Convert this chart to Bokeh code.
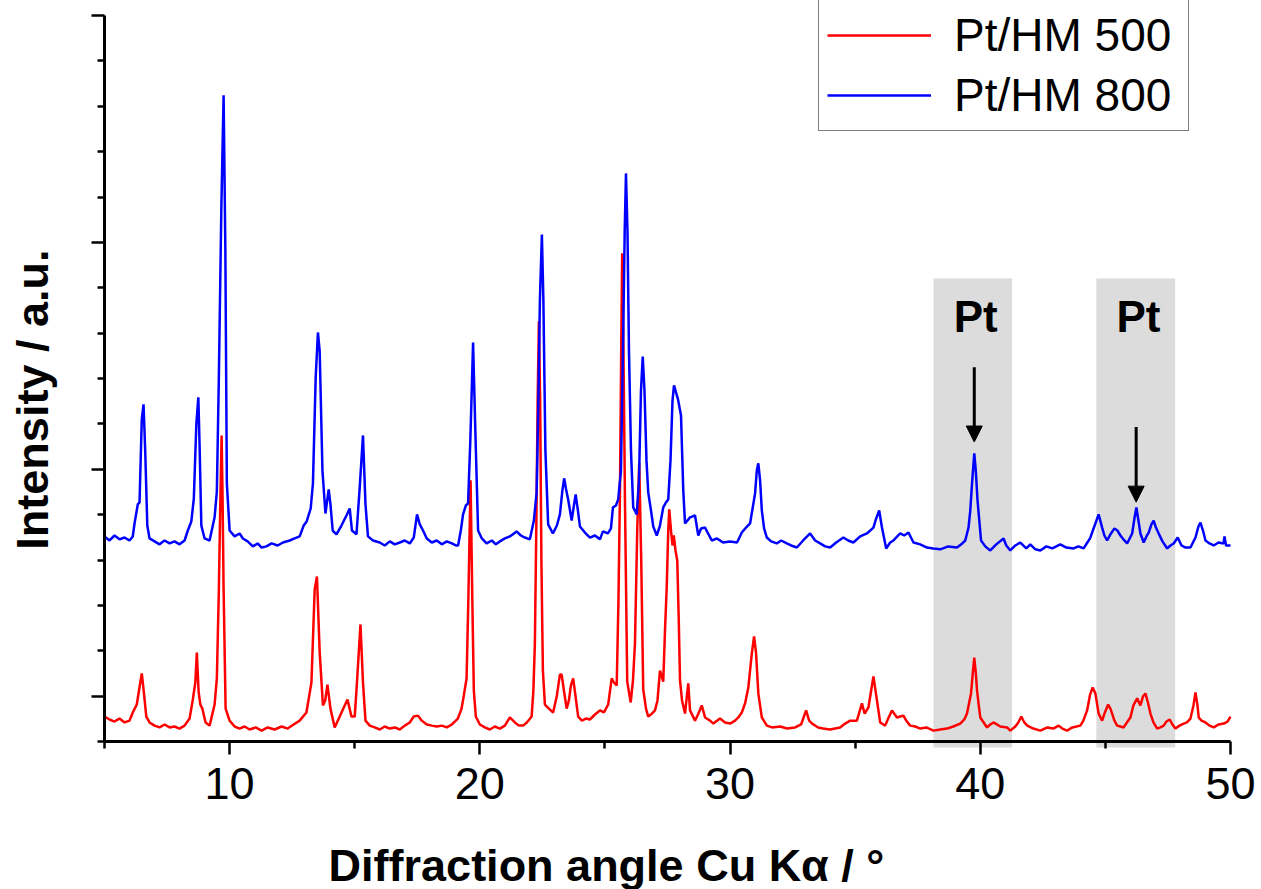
from bokeh.plotting import figure
from bokeh.models import (Range1d, FixedTicker, Legend, LegendItem, Label,
                          Arrow, NormalHead)
from bokeh.embed import file_html
from bokeh.resources import INLINE

# ---- data: (2theta / deg, intensity / counts) ----
pattern_500 = [
    (5.0, -90), (5.2, -103), (5.4, -112), (5.6, -99), (5.8, -116), (6.0, -108),
    (6.13, -72), (6.29, -37), (6.43, 60), (6.49, 100), (6.57, 20), (6.67, -90),
    (6.8, -116), (7.0, -130), (7.2, -138), (7.4, -125), (7.6, -138), (7.8, -134),
    (8.0, -143), (8.2, -130), (8.4, -99), (8.53, -15), (8.63, 60), (8.69, 192),
    (8.76, 20), (8.83, -37), (8.91, -55), (9.04, -116), (9.2, -130), (9.4, -37),
    (9.49, 78), (9.57, 470), (9.63, 863), (9.68, 1149), (9.72, 863), (9.76, 470),
    (9.84, -55), (10.0, -108), (10.2, -134), (10.4, -143), (10.6, -134), (10.8, -147),
    (11.04, -138), (11.28, -152), (11.52, -138), (11.8, -147), (12.08, -134),
    (12.32, -143), (12.56, -125), (12.8, -108), (13.07, -72), (13.27, 60), (13.4, 470),
    (13.49, 527), (13.6, 192), (13.73, -41), (13.82, -19), (13.91, 51), (14.03, -55),
    (14.2, -138), (14.4, -90), (14.6, -41), (14.71, -15), (14.87, -90), (15.0, -90),
    (15.09, 60), (15.23, 316), (15.33, 60), (15.43, -108), (15.6, -130), (15.8, -138),
    (16.0, -147), (16.2, -134), (16.4, -143), (16.6, -138), (16.8, -147), (17.0, -130),
    (17.2, -116), (17.36, -90), (17.53, -86), (17.68, -108), (17.88, -125),
    (18.08, -130), (18.28, -134), (18.48, -130), (18.68, -138), (18.88, -125),
    (19.04, -108), (19.12, -99), (19.27, -55), (19.36, 3), (19.47, 78), (19.54, 421),
    (19.63, 951), (19.7, 421), (19.76, 25), (19.84, -90), (20.0, -125), (20.2, -138),
    (20.4, -147), (20.6, -134), (20.8, -143), (21.0, -130), (21.2, -94), (21.4, -116),
    (21.56, -130), (21.73, -130), (21.88, -116), (22.07, -90), (22.14, 25), (22.2, 232),
    (22.26, 774), (22.31, 1303), (22.36, 1652), (22.41, 1303), (22.46, 598),
    (22.52, 113), (22.6, -37), (22.76, -55), (22.93, -72), (23.08, 3), (23.2, 95),
    (23.27, 95), (23.36, 25), (23.47, -55), (23.56, -19), (23.64, 47), (23.73, 78),
    (23.82, 3), (23.93, -90), (24.08, -108), (24.24, -99), (24.4, -103), (24.6, -81),
    (24.8, -63), (24.96, -72), (25.13, -37), (25.27, 78), (25.36, 60), (25.47, 47),
    (25.54, 421), (25.6, 898), (25.65, 1524), (25.69, 1952), (25.74, 1524),
    (25.8, 863), (25.89, 64), (26.03, -28), (26.12, 69), (26.2, 232), (26.29, 730),
    (26.37, 1026), (26.45, 598), (26.53, 29), (26.64, -55), (26.73, -90), (26.84, -81),
    (27.0, -63), (27.1, -19), (27.2, 113), (27.33, 64), (27.4, 289), (27.47, 483),
    (27.53, 730), (27.57, 823), (27.64, 730), (27.7, 664), (27.75, 708), (27.82, 642),
    (27.89, 598), (27.95, 333), (28.0, 69), (28.08, -19), (28.2, -77), (28.33, 56),
    (28.4, -63), (28.6, -108), (28.72, -81), (28.87, -41), (29.0, -94), (29.2, -108),
    (29.33, -121), (29.6, -99), (29.8, -116), (30.0, -121), (30.2, -108), (30.33, -94),
    (30.47, -72), (30.6, -32), (30.73, 38), (30.87, 188), (30.96, 263), (31.04, 188),
    (31.13, 12), (31.27, -94), (31.47, -130), (31.68, -138), (32.0, -134), (32.28, -143),
    (32.6, -138), (32.84, -125), (33.04, -63), (33.16, -108), (33.28, -121),
    (33.52, -138), (33.72, -143), (34.0, -147), (34.4, -138), (34.6, -121),
    (34.8, -108), (35.07, -108), (35.27, -32), (35.38, -77), (35.53, -50), (35.64, 25),
    (35.73, 87), (35.8, 34), (35.87, -19), (36.0, -116), (36.2, -130), (36.32, -99),
    (36.47, -63), (36.67, -94), (36.8, -90), (36.93, -86), (37.04, -108), (37.2, -130),
    (37.4, -134), (37.6, -143), (37.84, -138), (38.13, -152), (38.4, -147),
    (38.67, -143), (38.92, -134), (39.2, -121), (39.36, -103), (39.47, -77),
    (39.63, 12), (39.7, 100), (39.76, 170), (39.82, 104), (39.87, 25), (39.94, -41),
    (40.0, -94), (40.27, -138), (40.4, -125), (40.53, -116), (40.8, -134),
    (41.07, -138), (41.2, -152), (41.4, -134), (41.52, -116), (41.64, -90),
    (41.76, -116), (41.88, -130), (42.12, -143), (42.4, -152), (42.68, -138),
    (42.92, -143), (43.13, -130), (43.28, -143), (43.47, -152), (43.68, -138),
    (44.0, -130), (44.12, -108), (44.27, -63), (44.38, 3), (44.49, 38), (44.6, 12),
    (44.73, -77), (44.87, -108), (44.98, -72), (45.11, -37), (45.2, -55), (45.27, -77),
    (45.36, -108), (45.47, -130), (45.6, -134), (45.73, -138), (45.86, -116),
    (46.0, -94), (46.12, -41), (46.27, -10), (46.4, -41), (46.5, -2), (46.6, 12),
    (46.7, -28), (46.8, -77), (46.92, -116), (47.07, -143), (47.2, -138), (47.33, -130),
    (47.44, -112), (47.57, -103), (47.68, -125), (47.8, -143), (47.96, -130),
    (48.13, -121), (48.26, -116), (48.4, -99), (48.52, -41), (48.6, 16), (48.68, -41),
    (48.73, -94), (48.84, -108), (49.0, -116), (49.16, -130), (49.33, -138),
    (49.52, -125), (49.73, -121), (49.88, -112), (50.0, -90),
]

pattern_800 = [
    (5.0, 704), (5.2, 686), (5.4, 708), (5.6, 691), (5.8, 699), (6.0, 686), (6.13, 704),
    (6.2, 761), (6.33, 845), (6.4, 854), (6.49, 1220), (6.56, 1286), (6.63, 1070),
    (6.71, 752), (6.8, 695), (7.0, 682), (7.2, 669), (7.4, 686), (7.6, 673), (7.8, 682),
    (8.0, 669), (8.2, 686), (8.33, 730), (8.47, 770), (8.57, 871), (8.67, 1198),
    (8.75, 1317), (8.8, 1105), (8.87, 752), (9.0, 695), (9.2, 686), (9.4, 788),
    (9.49, 902), (9.57, 1405), (9.67, 2154), (9.76, 2648), (9.83, 1965), (9.89, 937),
    (10.0, 730), (10.2, 704), (10.4, 717), (10.53, 695), (10.72, 682), (10.93, 660),
    (11.12, 673), (11.28, 655), (11.47, 660), (11.68, 673), (11.92, 664), (12.13, 677),
    (12.4, 686), (12.6, 695), (12.8, 704), (12.96, 752), (13.08, 770), (13.24, 827),
    (13.33, 937), (13.44, 1405), (13.53, 1603), (13.6, 1519), (13.71, 995),
    (13.83, 805), (13.96, 911), (14.03, 845), (14.12, 730), (14.27, 713), (14.47, 752),
    (14.67, 796), (14.8, 827), (14.89, 730), (15.07, 713), (15.2, 920), (15.33, 1149),
    (15.43, 845), (15.53, 704), (15.73, 686), (16.0, 677), (16.2, 664), (16.4, 682),
    (16.6, 669), (16.8, 677), (17.0, 686), (17.2, 673), (17.36, 699), (17.49, 801),
    (17.6, 757), (17.73, 730), (17.88, 695), (18.08, 677), (18.28, 686), (18.48, 669),
    (18.68, 682), (18.88, 673), (19.04, 664), (19.13, 664), (19.24, 730), (19.33, 801),
    (19.44, 840), (19.53, 849), (19.62, 1127), (19.73, 1559), (19.82, 1171),
    (19.93, 730), (20.08, 695), (20.27, 673), (20.48, 686), (20.64, 669), (20.8, 682),
    (21.0, 695), (21.2, 704), (21.47, 726), (21.64, 708), (21.8, 699), (22.0, 691),
    (22.16, 774), (22.27, 898), (22.34, 1303), (22.4, 1744), (22.48, 2035),
    (22.54, 1744), (22.62, 1083), (22.73, 757), (22.92, 717), (23.08, 752), (23.2, 801),
    (23.3, 907), (23.37, 960), (23.44, 915), (23.53, 867), (23.67, 774), (23.76, 840),
    (23.83, 889), (23.92, 818), (24.0, 748), (24.2, 721), (24.4, 699), (24.6, 708),
    (24.8, 691), (24.92, 726), (25.12, 717), (25.24, 739), (25.32, 832), (25.44, 840),
    (25.53, 867), (25.64, 995), (25.72, 1524), (25.79, 2053), (25.84, 2304),
    (25.9, 2053), (25.96, 1524), (26.04, 1083), (26.13, 832), (26.27, 801),
    (26.36, 951), (26.44, 1347), (26.51, 1497), (26.58, 1347), (26.66, 1039),
    (26.73, 898), (26.84, 818), (26.93, 748), (27.07, 708), (27.2, 752), (27.33, 832),
    (27.44, 854), (27.53, 867), (27.62, 1039), (27.7, 1303), (27.76, 1370),
    (27.84, 1339), (27.92, 1308), (28.04, 1237), (28.13, 907), (28.2, 761), (28.4, 788),
    (28.6, 796), (28.73, 708), (28.84, 739), (29.0, 743), (29.12, 717), (29.27, 686),
    (29.48, 695), (29.72, 677), (30.0, 682), (30.28, 677), (30.47, 721), (30.64, 743),
    (30.8, 761), (30.9, 827), (31.0, 893), (31.07, 995), (31.13, 1026), (31.2, 951),
    (31.27, 818), (31.36, 739), (31.47, 699), (31.64, 682), (31.87, 673), (32.04, 686),
    (32.27, 673), (32.44, 664), (32.67, 655), (32.92, 686), (33.2, 717), (33.4, 686),
    (33.6, 673), (33.8, 660), (34.0, 655), (34.24, 677), (34.53, 699), (34.72, 686),
    (34.93, 677), (35.2, 704), (35.47, 717), (35.73, 743), (35.84, 783), (35.96, 818),
    (36.07, 743), (36.24, 651), (36.4, 677), (36.53, 686), (36.8, 717), (36.96, 708),
    (37.13, 721), (37.33, 677), (37.6, 669), (37.87, 655), (38.12, 651), (38.4, 647),
    (38.72, 660), (39.07, 655), (39.28, 673), (39.4, 686), (39.53, 743), (39.6, 818),
    (39.67, 937), (39.76, 1070), (39.82, 995), (39.89, 863), (40.03, 686), (40.2, 660),
    (40.4, 642), (40.64, 669), (40.93, 695), (41.04, 664), (41.2, 642), (41.4, 664),
    (41.6, 677), (41.84, 651), (42.0, 669), (42.2, 647), (42.4, 642), (42.64, 660),
    (42.88, 651), (43.2, 669), (43.44, 655), (43.73, 651), (43.92, 660), (44.13, 651),
    (44.28, 677), (44.4, 699), (44.6, 761), (44.73, 801), (44.87, 743), (44.96, 708),
    (45.07, 686), (45.2, 713), (45.36, 739), (45.48, 730), (45.6, 708), (45.72, 691),
    (45.87, 673), (46.07, 717), (46.16, 783), (46.24, 832), (46.32, 774), (46.4, 717),
    (46.53, 677), (46.64, 704), (46.73, 721), (46.84, 757), (46.93, 774), (47.02, 743),
    (47.13, 717), (47.28, 682), (47.47, 651), (47.6, 664), (47.73, 673), (47.89, 699),
    (48.04, 664), (48.2, 655), (48.4, 655), (48.6, 699), (48.72, 748), (48.8, 765),
    (48.9, 730), (49.0, 686), (49.16, 673), (49.33, 664), (49.52, 677), (49.72, 673),
    (49.76, 704), (49.82, 664), (50.0, 664),
]

angle_500 = [a for a, _ in pattern_500]
intensity_500 = [i for _, i in pattern_500]
angle_800 = [a for a, _ in pattern_800]
intensity_800 = [i for _, i in pattern_800]

series_labels = ["Pt/HM 500", "Pt/HM 800"]

# Pt reflection regions, labels and arrows
pt_left = [38.13, 44.64]
pt_right = [41.27, 47.79]
pt_top = [1841, 1841]
pt_bottom = [-226, -226]
pt_text_x = [39.82, 46.32]
pt_text_y = [1672, 1672]
arrow_x = [39.76, 46.23]
arrow_y_start = [1450, 1186]
arrow_y_end = [1120, 855]

# axes: extents and ticks
x_extent = (5, 50)
y_extent = (-200, 3000)
x_major = [10, 20, 30, 40, 50]
x_minor = [5, 15, 25, 35, 45]
y_major = [0, 1000, 2000, 3000]
y_minor = [-200, 200, 400, 600, 800, 1200, 1400, 1600, 1800, 2200, 2400, 2600, 2800]

FONT = "Liberation Sans"
W, H = 1261, 889
FRAME_L, FRAME_R, FRAME_T, FRAME_B = 104, 1230, 15, 741   # axis box in pixels

# view ranges chosen so the axes box sits where it does in the original
px_per_x = (FRAME_R - FRAME_L) / (x_extent[1] - x_extent[0])
px_per_y = (FRAME_B - FRAME_T) / (y_extent[1] - y_extent[0])
x_view = (x_extent[0] - FRAME_L / px_per_x, x_extent[1] + (W - FRAME_R) / px_per_x)
y_view = (y_extent[0] - (H - FRAME_B) / px_per_y, y_extent[1] + FRAME_T / px_per_y)

p = figure(width=W, height=H, output_backend="svg", toolbar_location=None,
           x_range=Range1d(*x_view), y_range=Range1d(*y_view), min_border=0)
p.background_fill_color = "white"
p.border_fill_color = "white"
p.outline_line_color = None
p.xgrid.visible = False
p.ygrid.visible = False

p.quad(left=pt_left, right=pt_right, top=pt_top, bottom=pt_bottom,
       fill_color="#DCDCDC", line_color=None)

r500 = p.line(angle_500, intensity_500, line_color="#FF0000", line_width=2.5)
r800 = p.line(angle_800, intensity_800, line_color="#0000FF", line_width=2.5)

xa, ya = p.xaxis[0], p.yaxis[0]
xa.fixed_location = y_extent[0]
ya.fixed_location = x_extent[0]
xa.bounds = x_extent
ya.bounds = y_extent
for ax in (xa, ya):
    ax.axis_line_width = 3
    ax.axis_line_color = "black"
    ax.major_tick_line_width = 2.5
    ax.minor_tick_line_width = 2.5
    ax.major_tick_line_color = "black"
    ax.minor_tick_line_color = "black"
    ax.major_tick_in = 0
    ax.minor_tick_in = 0
    ax.major_tick_out = 13
    ax.minor_tick_out = 7

xa.ticker = FixedTicker(ticks=x_major, minor_ticks=x_minor)
ya.ticker = FixedTicker(ticks=y_major, minor_ticks=y_minor)
xa.major_label_text_font = FONT
xa.major_label_text_font_size = "45px"
xa.major_label_text_color = "black"
xa.major_label_standoff = 13
ya.major_label_overrides = {t: "" for t in y_major}

# axis titles
p.add_layout(Label(x=25.06, y=-747, text="Diffraction angle Cu K\u03b1 / \u00b0",
                   text_font=FONT, text_font_style="bold", text_font_size="45px",
                   text_color="black", text_align="center", text_baseline="alphabetic"))
p.add_layout(Label(x=2.12, y=1307, angle=90, angle_units="deg", text="Intensity / a.u.",
                   text_font=FONT, text_font_style="bold", text_font_size="45px",
                   text_color="black", text_align="center", text_baseline="alphabetic"))

# Pt labels and arrows
for tx, ty in zip(pt_text_x, pt_text_y):
    p.add_layout(Label(x=tx, y=ty, text="Pt", text_font=FONT, text_font_style="bold",
                       text_font_size="44px", text_color="black", text_align="center",
                       text_baseline="alphabetic"))
for ax_, ys, ye in zip(arrow_x, arrow_y_start, arrow_y_end):
    p.add_layout(Arrow(end=NormalHead(size=16, fill_color="black", line_color="black",
                                      line_width=1),
                       x_start=ax_, y_start=ys, x_end=ax_, y_end=ye,
                       line_width=3, line_color="black"))

legend = Legend(items=[LegendItem(label=series_labels[0], renderers=[r500]),
                       LegendItem(label=series_labels[1], renderers=[r800])],
                location=(818, 758), margin=0, padding=8, spacing=6,
                glyph_width=104, glyph_height=20, label_standoff=23, label_width=226,
                label_text_font=FONT, label_text_font_size="46px",
                label_text_color="black", border_line_color="black",
                border_line_width=1.5, background_fill_color="white",
                background_fill_alpha=1.0)
p.add_layout(legend)

open("out.html", "w").write(file_html(p, INLINE))
